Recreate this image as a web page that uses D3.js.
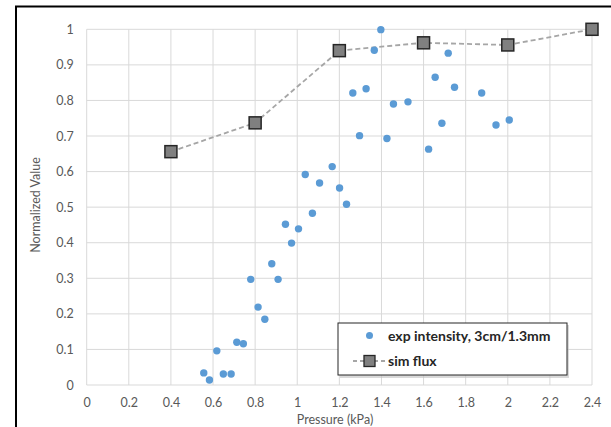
<!DOCTYPE html>
<html>
<head>
<meta charset="utf-8">
<script src="https://cdn.jsdelivr.net/npm/d3@7"></script>
<style>
  body { margin: 0; background: #fff; }
  svg { display: block; font-family: Lato, "Open Sans", sans-serif; }
</style>
</head>
<body>
<svg id="chart" width="611" height="427" viewBox="0 0 611 427"></svg>
<script>
// exp intensity, 3cm/1.3mm (pressure kPa, normalized)
const expPressure = [0.556, 0.583, 0.618, 0.649, 0.686, 0.713, 0.744, 0.779, 0.814, 0.846,
  0.879, 0.909, 0.944, 0.973, 1.006, 1.038, 1.072, 1.106, 1.166, 1.201,
  1.234, 1.264, 1.296, 1.327, 1.366, 1.397, 1.426, 1.457, 1.526, 1.590,
  1.624, 1.655, 1.687, 1.717, 1.747, 1.876, 1.944, 2.007]
const expValue = [0.034, 0.014, 0.096, 0.031, 0.031, 0.120, 0.116, 0.297, 0.219, 0.185,
  0.341, 0.297, 0.452, 0.399, 0.439, 0.592, 0.483, 0.568, 0.614, 0.554,
  0.508, 0.821, 0.701, 0.833, 0.941, 0.999, 0.693, 0.790, 0.796, 0.966,
  0.663, 0.865, 0.736, 0.933, 0.837, 0.821, 0.731, 0.745]

// sim flux
const simPressure = [0.4, 0.8, 1.2, 1.6, 2.0, 2.4]
const simValue = [0.656, 0.737, 0.940, 0.962, 0.956, 1.0]

const xTicks = d3.range(0, 2.41, 0.2)
const yTicks = d3.range(0, 1.01, 0.1)

const svg = d3.select("#chart")

// outer frame (left + top edges visible)
svg.append("path")
    .attr("d", "M16,427 V6.5 H611")
    .attr("fill", "none")
    .attr("stroke", "#000")
    .attr("stroke-width", 2)

const x = d3.scaleLinear().domain([0, 2.4]).range([86.7, 592])
const y = d3.scaleLinear().domain([0, 1]).range([385, 29.3])

// gridlines
const grid = svg.append("g")
grid.selectAll(".vx").data(xTicks).enter().append("line")
    .attr("x1", d => x(d)).attr("x2", d => x(d))
    .attr("y1", y(0)).attr("y2", y(1))
    .attr("stroke", "#d9d9d9").attr("stroke-width", 1)
grid.selectAll(".hy").data(yTicks).enter().append("line")
    .attr("x1", x(0)).attr("x2", x(2.4))
    .attr("y1", d => y(d)).attr("y2", d => y(d))
    .attr("stroke", "#d9d9d9").attr("stroke-width", 1)

// axes (labels only)
const xAxis = svg.append("g")
    .attr("transform", `translate(0,${y(0)})`)
    .call(d3.axisBottom(x).tickValues(xTicks).tickSize(0).tickPadding(13)
        .tickFormat(d => d3.format("~g")(+d.toFixed(1))))
xAxis.select(".domain").remove()
xAxis.selectAll("text").attr("fill", "#595959").style("font-size", "12.5px").style("font-family", "Lato, sans-serif")

const yAxis = svg.append("g")
    .attr("transform", `translate(${x(0)},0)`)
    .call(d3.axisLeft(y).tickValues(yTicks).tickSize(0).tickPadding(13)
        .tickFormat(d => d3.format("~g")(+d.toFixed(1))))
yAxis.select(".domain").remove()
yAxis.selectAll("text").attr("fill", "#595959").style("font-size", "12.5px").style("font-family", "Lato, sans-serif")

// axis titles
svg.append("text")
    .attr("x", 335).attr("y", 424)
    .attr("text-anchor", "middle")
    .attr("fill", "#595959")
    .style("font-size", "12.5px")
    .text("Pressure (kPa)")

svg.append("text")
    .attr("transform", "translate(40,205) rotate(-90)")
    .attr("text-anchor", "middle")
    .attr("fill", "#595959")
    .style("font-size", "12.5px")
    .text("Normalized Value")

// sim flux line
const line = d3.line().x((d, i) => x(simPressure[i])).y(d => y(d))
svg.append("path")
    .datum(simValue)
    .attr("d", line)
    .attr("fill", "none")
    .attr("stroke", "#a6a6a6")
    .attr("stroke-width", 1.8)
    .attr("stroke-dasharray", "5,3")

// exp intensity points
svg.append("g").selectAll("circle")
    .data(expValue)
    .enter()
    .append("circle")
    .attr("cx", (d, i) => x(expPressure[i]))
    .attr("cy", d => y(d))
    .attr("r", 3.7)
    .attr("fill", "#5b9bd5")

// sim flux markers
const sq = 12
svg.append("g").selectAll("rect")
    .data(simValue)
    .enter()
    .append("rect")
    .attr("x", (d, i) => x(simPressure[i]) - sq / 2)
    .attr("y", d => y(d) - sq / 2)
    .attr("width", sq).attr("height", sq)
    .attr("fill", "#808080")
    .attr("stroke", "#262626")
    .attr("stroke-width", 1.5)

// legend
const legend = svg.append("g")
legend.append("rect")
    .attr("x", 340).attr("y", 325).attr("width", 229).attr("height", 53)
    .attr("fill", "#bfbfbf").attr("opacity", 0.6)
legend.append("rect")
    .attr("x", 338).attr("y", 323).attr("width", 229).attr("height", 52)
    .attr("fill", "#fff").attr("stroke", "#262626").attr("stroke-width", 1)

legend.append("circle")
    .attr("cx", 369.5).attr("cy", 335.5).attr("r", 3.5).attr("fill", "#5b9bd5")
legend.append("text")
    .attr("x", 388).attr("y", 340.5)
    .attr("fill", "#262626").style("font-size", "14px").style("font-weight", "bold")
    .text("exp intensity, 3cm/1.3mm")

legend.append("line")
    .attr("x1", 353).attr("x2", 387).attr("y1", 361).attr("y2", 361)
    .attr("stroke", "#a6a6a6").attr("stroke-width", 1.8).attr("stroke-dasharray", "4,3")
legend.append("rect")
    .attr("x", 364).attr("y", 355.5).attr("width", 11).attr("height", 11)
    .attr("fill", "#808080").attr("stroke", "#262626").attr("stroke-width", 1.3)
legend.append("text")
    .attr("x", 388).attr("y", 366)
    .attr("fill", "#262626").style("font-size", "14px").style("font-weight", "bold")
    .text("sim flux")
</script>
</body>
</html>
